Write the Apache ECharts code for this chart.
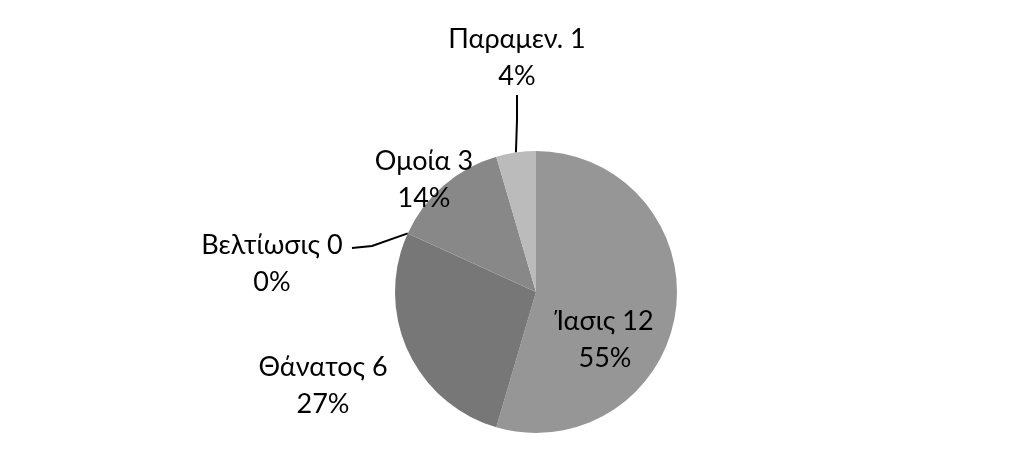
<!DOCTYPE html>
<html>
<head>
<meta charset="utf-8">
<script src="https://cdn.jsdelivr.net/npm/echarts@6/dist/echarts.min.js"></script>
<style>
  html, body { margin: 0; padding: 0; background: #fff; }
  #main { width: 1023px; height: 474px; }
</style>
</head>
<body>
<div id="main"></div>
<script>
// outcome categories, counts and the percent labels as printed
var categories = ['Ίασις', 'Θάνατος', 'Βελτίωσις', 'Ομοία', 'Παραμεν.'];
var counts = [12, 6, 0, 3, 1];
var pctLabels = ['55%', '27%', '0%', '14%', '4%'];
var colors = ['#969696', '#777777', '#808080', '#888888', '#bbbbbb'];

// where each label block sits (centre of the two lines)
var labelSpots = [[605, 340], [323, 386], [272, 264], [424, 180], [517, 58]];
// leader line: bend point and end point (null = no line)
var leaderEnds = [null, null, [[372, 246], [352, 248]], null, [[517, 120], [517, 95]]];
var leaderLen2 = [0, 0, 20, 0, 0];

var myChart = echarts.init(document.getElementById('main'));

var data = categories.map(function (name, i) {
    return {
        name: name,
        value: counts[i],
        itemStyle: { color: colors[i] },
        labelLine: { show: !!leaderEnds[i], length: 10, length2: leaderLen2[i] }
    };
});

var option = {
    animation: false,
    series: [{
        type: 'pie',
        center: [536, 292],
        radius: [0, 141],
        startAngle: 90,
        clockwise: true,
        avoidLabelOverlap: false,
        data: data,
        label: {
            show: true,
            position: 'outside',
            fontFamily: 'Lato',
            fontSize: 27,
            lineHeight: 37,
            color: '#000',
            align: 'center',
            formatter: function (p) {
                return p.name + ' ' + p.value + '\n' + pctLabels[p.dataIndex];
            }
        },
        labelLine: {
            show: true,
            lineStyle: { color: '#000', width: 2 }
        },
        labelLayout: function (p) {
            var s = labelSpots[p.dataIndex];
            var out = { x: s[0], y: s[1], align: 'center', verticalAlign: 'middle', hideOverlap: false };
            var ends = leaderEnds[p.dataIndex];
            if (ends) {
                // start the line where the library put it on the slice edge
                var start = p.labelLinePoints ? p.labelLinePoints[0]
                    : [p.rect.x + p.rect.width / 2, p.rect.y];
                out.labelLinePoints = [[start[0], start[1]], ends[0], ends[1]];
            }
            return out;
        }
    }]
};
myChart.setOption(option);
</script>
</body>
</html>
